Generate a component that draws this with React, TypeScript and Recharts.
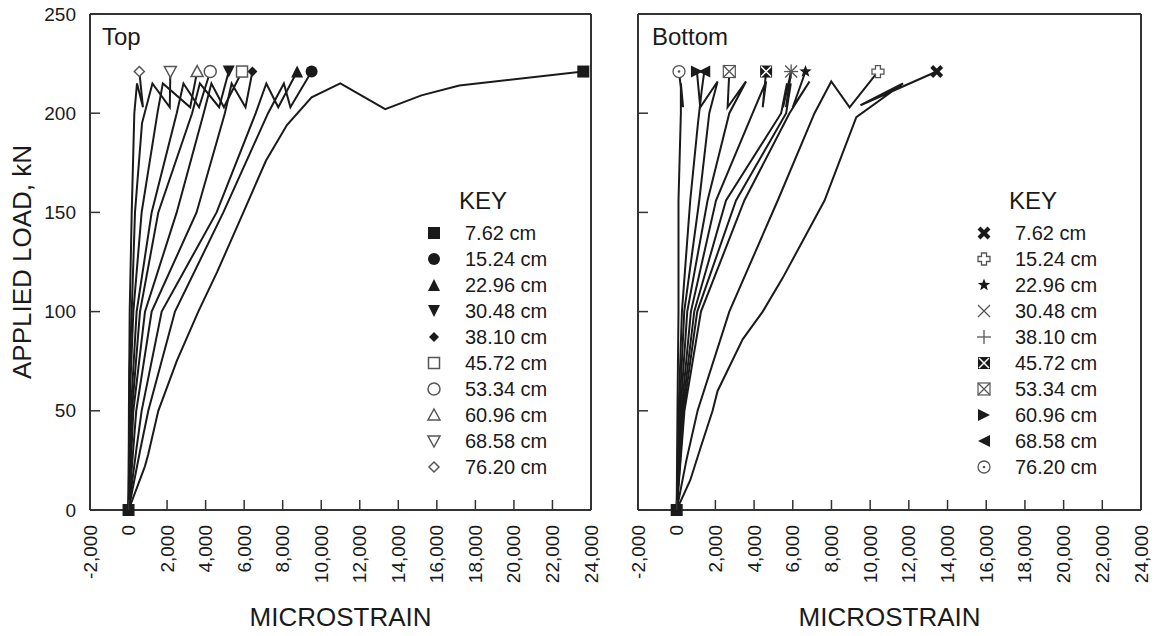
import { LineChart, Line, XAxis, YAxis, ReferenceLine, Legend } from 'recharts';

const FONT = '"Liberation Sans", Arial, sans-serif';
const INK = '#1a1a1a';
const GREY = '#555';

// tick values
const xTicks = [-2000, 0, 2000, 4000, 6000, 8000, 10000, 12000, 14000, 16000, 18000, 20000, 22000, 24000];
const yTicks = [0, 50, 100, 150, 200, 250];

// gauge positions (legend labels)
const gaugeLabels = ['7.62 cm', '15.24 cm', '22.96 cm', '30.48 cm', '38.10 cm', '45.72 cm', '53.34 cm', '60.96 cm', '68.58 cm', '76.20 cm'];

// TOP gauges: [microstrain, kN]
const top762 = [[0, 0], [850, 22], [1020, 28], [1545, 50], [2500, 75], [3620, 100], [4600, 120], [5960, 150], [7130, 176], [8220, 194], [9500, 208], [10990, 215], [13320, 202], [15200, 209], [17165, 214], [23600, 221]];
const top1524 = [[0, 0], [600, 30], [1025, 50], [2410, 100], [4920, 150], [7240, 200], [8060, 215], [8400, 203], [9500, 221]];
const top2296 = [[0, 0], [400, 30], [680, 50], [1720, 100], [4570, 150], [6600, 200], [7150, 215], [7770, 203], [8750, 221]];
const top3048 = [[0, 0], [180, 50], [595, 100], [1545, 150], [3300, 200], [3700, 215], [4700, 203], [5200, 221]];
const top3810 = [[0, 0], [400, 50], [1200, 100], [3530, 150], [5000, 200], [5350, 215], [6070, 203], [6430, 221]];
const top4572 = [[0, 0], [250, 50], [855, 100], [2500, 150], [3900, 200], [4300, 215], [4950, 203], [5890, 221]];
const top5334 = [[0, 0], [150, 55], [420, 100], [1200, 150], [2500, 200], [2850, 215], [3660, 203], [4240, 221]];
const top6096 = [[0, 0], [80, 60], [250, 100], [680, 150], [1500, 200], [1780, 215], [3200, 203], [3560, 221]];
const top6858 = [[0, 0], [50, 70], [165, 100], [335, 150], [700, 195], [1240, 215], [2140, 203], [2170, 221]];
const top7620 = [[0, 0], [20, 50], [60, 100], [165, 150], [300, 200], [440, 215], [750, 203], [560, 221]];

// BOTTOM gauges
const bot762 = [[0, 0], [700, 15], [1254, 32], [1855, 50], [2114, 60], [3410, 86], [4446, 100], [5482, 117], [7642, 156], [9285, 198], [11700, 215], [9500, 204], [13440, 221]];
const bot1524 = [[0, 0], [500, 25], [1080, 50], [2720, 100], [5223, 156], [7124, 200], [7990, 216], [8938, 203], [10404, 221]];
const bot2296 = [[0, 0], [400, 50], [1254, 100], [3497, 156], [5830, 200], [6865, 216], [6000, 203], [6658, 221]];
const bot3048 = [[0, 0], [350, 50], [1062, 100], [3067, 156], [5658, 200], [5900, 215], [5650, 203], [5917, 221]];
const bot3810 = [[0, 0], [300, 50], [907, 100], [2549, 156], [5400, 200], [5700, 215], [5500, 203], [5917, 221]];
const bot4572 = [[0, 0], [250, 50], [735, 100], [2031, 156], [3927, 200], [4622, 216], [4446, 203], [4622, 221]];
const bot5334 = [[0, 0], [200, 50], [546, 100], [1596, 156], [2720, 200], [3585, 216], [2632, 203], [2720, 221]];
const bot6096 = [[0, 0], [150, 50], [390, 100], [1166, 156], [1684, 200], [2114, 216], [1218, 203], [1046, 221]];
const bot6858 = [[0, 0], [100, 50], [270, 100], [700, 156], [1100, 195], [1300, 212], [1425, 221]];
const bot7620 = [[0, 0], [40, 50], [93, 100], [93, 156], [216, 200], [216, 215], [330, 203], [119, 221]];

const topShapes = ['sq', 'circ', 'triU', 'triD', 'diam', 'osq', 'ocirc', 'otriU', 'otriD', 'odiam'];
const botShapes = ['xbold', 'oplus', 'star', 'xthin', 'plus', 'boxxb', 'boxx', 'triR', 'triL', 'odot'];

const topSeries = [top762, top1524, top2296, top3048, top3810, top4572, top5334, top6096, top6858, top7620];
const botSeries = [bot762, bot1524, bot2296, bot3048, bot3810, bot4572, bot5334, bot6096, bot6858, bot7620];

const toPts = (a: number[][]) => a.map(([x, y]) => ({ x, y }));

function Marker({ shape, cx, cy }: any) {
  const s = 6;
  switch (shape) {
    case 'sq':
      return <rect x={cx - s} y={cy - s} width={2 * s} height={2 * s} fill={INK} />;
    case 'circ':
      return <circle cx={cx} cy={cy} r={s} fill={INK} />;
    case 'triU':
      return <polygon points={`${cx},${cy - s} ${cx + s},${cy + s} ${cx - s},${cy + s}`} fill={INK} />;
    case 'triD':
      return <polygon points={`${cx - s},${cy - s} ${cx + s},${cy - s} ${cx},${cy + s}`} fill={INK} />;
    case 'diam':
      return <polygon points={`${cx},${cy - 5} ${cx + 5},${cy} ${cx},${cy + 5} ${cx - 5},${cy}`} fill={INK} />;
    case 'osq':
      return <rect x={cx - 5.5} y={cy - 5.5} width={11} height={11} fill="#fff" stroke={GREY} strokeWidth={1.5} />;
    case 'ocirc':
      return <circle cx={cx} cy={cy} r={6} fill="#fff" stroke={GREY} strokeWidth={1.5} />;
    case 'otriU':
      return <polygon points={`${cx},${cy - 6} ${cx + 6},${cy + 5} ${cx - 6},${cy + 5}`} fill="#fff" stroke={GREY} strokeWidth={1.5} />;
    case 'otriD':
      return <polygon points={`${cx - 6},${cy - 5} ${cx + 6},${cy - 5} ${cx},${cy + 6}`} fill="#fff" stroke={GREY} strokeWidth={1.5} />;
    case 'odiam':
      return <polygon points={`${cx},${cy - 5} ${cx + 5},${cy} ${cx},${cy + 5} ${cx - 5},${cy}`} fill="#fff" stroke={GREY} strokeWidth={1.5} />;
    case 'xbold':
      return (
        <g stroke={INK} strokeWidth={4}>
          <line x1={cx - 5} y1={cy - 5} x2={cx + 5} y2={cy + 5} />
          <line x1={cx - 5} y1={cy + 5} x2={cx + 5} y2={cy - 5} />
        </g>
      );
    case 'oplus':
      return (
        <polygon
          points={`${cx - 2.5},${cy - 6} ${cx + 2.5},${cy - 6} ${cx + 2.5},${cy - 2.5} ${cx + 6},${cy - 2.5} ${cx + 6},${cy + 2.5} ${cx + 2.5},${cy + 2.5} ${cx + 2.5},${cy + 6} ${cx - 2.5},${cy + 6} ${cx - 2.5},${cy + 2.5} ${cx - 6},${cy + 2.5} ${cx - 6},${cy - 2.5} ${cx - 2.5},${cy - 2.5}`}
          fill="#fff"
          stroke={GREY}
          strokeWidth={1.3}
        />
      );
    case 'star': {
      const pts: string[] = [];
      for (let i = 0; i < 10; i++) {
        const r = i % 2 === 0 ? 6.5 : 2.7;
        const a = -Math.PI / 2 + (i * Math.PI) / 5;
        pts.push(`${cx + r * Math.cos(a)},${cy + r * Math.sin(a)}`);
      }
      return <polygon points={pts.join(' ')} fill={INK} />;
    }
    case 'xthin':
      return (
        <g stroke={GREY} strokeWidth={1.3}>
          <line x1={cx - 6} y1={cy - 6} x2={cx + 6} y2={cy + 6} />
          <line x1={cx - 6} y1={cy + 6} x2={cx + 6} y2={cy - 6} />
        </g>
      );
    case 'plus':
      return (
        <g stroke={GREY} strokeWidth={1.3}>
          <line x1={cx - 7} y1={cy} x2={cx + 7} y2={cy} />
          <line x1={cx} y1={cy - 7} x2={cx} y2={cy + 7} />
        </g>
      );
    case 'boxxb':
      return (
        <g>
          <rect x={cx - 6} y={cy - 6} width={12} height={12} fill={INK} />
          <g stroke="#fff" strokeWidth={1.5}>
            <line x1={cx - 5} y1={cy - 5} x2={cx + 5} y2={cy + 5} />
            <line x1={cx - 5} y1={cy + 5} x2={cx + 5} y2={cy - 5} />
          </g>
        </g>
      );
    case 'boxx':
      return (
        <g stroke={GREY} strokeWidth={1.2} fill="#fff">
          <rect x={cx - 6} y={cy - 6} width={12} height={12} />
          <line x1={cx - 6} y1={cy - 6} x2={cx + 6} y2={cy + 6} />
          <line x1={cx - 6} y1={cy + 6} x2={cx + 6} y2={cy - 6} />
        </g>
      );
    case 'triR':
      return <polygon points={`${cx - 6},${cy - 6} ${cx + 6},${cy} ${cx - 6},${cy + 6}`} fill={INK} />;
    case 'triL':
      return <polygon points={`${cx + 6},${cy - 6} ${cx - 6},${cy} ${cx + 6},${cy + 6}`} fill={INK} />;
    case 'odot':
      return (
        <g>
          <circle cx={cx} cy={cy} r={6} fill="#fff" stroke={GREY} strokeWidth={1.3} />
          <circle cx={cx} cy={cy} r={1.3} fill={GREY} />
        </g>
      );
    default:
      return null;
  }
}

// marker only on the last point; the first series also gets the square at the origin
function endDots(shape: string, n: number, origin: boolean) {
  return (props: any) => {
    const { cx, cy, index } = props;
    if (index === n - 1) return <g key={`d${index}`}><Marker shape={shape} cx={cx} cy={cy} /></g>;
    if (index === 0 && origin) return <g key={`d${index}`}><Marker shape="sq" cx={cx} cy={cy} /></g>;
    return <g key={`d${index}`} />;
  };
}

const fmt = (v: number) => v.toLocaleString('en-US');

function XTick(props: any) {
  const { x, y, payload } = props;
  const ty = y + 15;
  return (
    <g>
      <line x1={x} y1={y} x2={x} y2={y - 10} stroke="#333" strokeWidth={1.5} />
      <text
        x={x}
        y={ty}
        transform={`rotate(-90 ${x} ${ty})`}
        textAnchor="end"
        dominantBaseline="central"
        fontSize={19}
        fill={INK}
        fontFamily={FONT}
      >
        {fmt(payload.value)}
      </text>
    </g>
  );
}

function YTick(props: any) {
  const { x, y, payload, showLabel } = props;
  return (
    <g>
      <line x1={x} y1={y} x2={x + 10} y2={y} stroke="#333" strokeWidth={1.5} />
      {showLabel && (
        <text x={x - 14} y={y} textAnchor="end" dominantBaseline="central" fontSize={19} fill={INK} fontFamily={FONT}>
          {payload.value}
        </text>
      )}
    </g>
  );
}

function Key({ shapes }: any) {
  return (
    <svg width={150} height={300} style={{ display: 'block' }}>
      <text x={39} y={20} dominantBaseline="central" fontSize={24} fill={INK} fontFamily={FONT}>
        KEY
      </text>
      {shapes.map((s: string, i: number) => (
        <g key={s}>
          <Marker shape={s} cx={14} cy={53 + 26 * i} />
          <text x={45} y={53 + 26 * i} dominantBaseline="central" fontSize={20} fill={INK} fontFamily={FONT}>
            {gaugeLabels[i]}
          </text>
        </g>
      ))}
    </svg>
  );
}

function Panel({ series, shapes, width, axisW, right, showYLabels, keyLeft }: any) {
  return (
    <LineChart width={width} height={636} margin={{ top: 14, right, bottom: 0, left: 0 }}>
      <XAxis
        type="number"
        dataKey="x"
        domain={[-2000, 24000]}
        ticks={xTicks}
        interval={0}
        height={126}
        tickSize={0}
        tickMargin={0}
        tickLine={false}
        axisLine={{ stroke: '#333', strokeWidth: 2 }}
        tick={<XTick />}
        label={{ value: 'MICROSTRAIN', position: 'center', dy: 44, fontSize: 26, fill: INK, fontFamily: FONT }}
      />
      <YAxis
        type="number"
        dataKey="y"
        domain={[0, 250]}
        ticks={yTicks}
        interval={0}
        width={axisW}
        tickSize={0}
        tickMargin={0}
        tickLine={false}
        axisLine={{ stroke: '#333', strokeWidth: 2 }}
        tick={(p: any) => <YTick {...p} showLabel={showYLabels} />}
        label={
          showYLabels
            ? { value: 'APPLIED LOAD, kN', angle: -90, position: 'center', dx: -23, fontSize: 26, fill: INK, fontFamily: FONT }
            : undefined
        }
      />
      <ReferenceLine y={250} stroke="#333" strokeWidth={2} />
      <ReferenceLine x={24000} stroke="#333" strokeWidth={2} />
      <Legend
        layout="vertical"
        align="center"
        verticalAlign="middle"
        content={() => <Key shapes={shapes} />}
        wrapperStyle={{ position: 'absolute', left: keyLeft, top: 180, width: 150, height: 300 }}
      />
      {series.map((s: number[][], i: number) => (
        <Line
          key={gaugeLabels[i]}
          name={gaugeLabels[i]}
          data={toPts(s)}
          dataKey="y"
          type="linear"
          stroke={INK}
          strokeWidth={2}
          dot={endDots(shapes[i], s.length, i === 0)}
          activeDot={false}
          isAnimationActive={false}
        />
      ))}
    </LineChart>
  );
}

const titleStyle: any = {
  position: 'absolute',
  fontFamily: FONT,
  fontSize: 24,
  lineHeight: '24px',
  color: INK,
};

export default function App() {
  return (
    <div style={{ position: 'absolute', left: 0, top: 0, width: 1156, height: 636, background: '#fff' }}>
      <div style={{ position: 'absolute', left: 0, top: 0 }}>
        <Panel series={topSeries} shapes={topShapes} width={600} axisW={90} right={9} showYLabels keyLeft={420} />
      </div>
      <div style={{ position: 'absolute', left: 600, top: 0 }}>
        <Panel series={botSeries} shapes={botShapes} width={556} axisW={38} right={15} showYLabels={false} keyLeft={370} />
      </div>
      <div style={{ ...titleStyle, left: 102, top: 25 }}>Top</div>
      <div style={{ ...titleStyle, left: 652, top: 25 }}>Bottom</div>
    </div>
  );
}
